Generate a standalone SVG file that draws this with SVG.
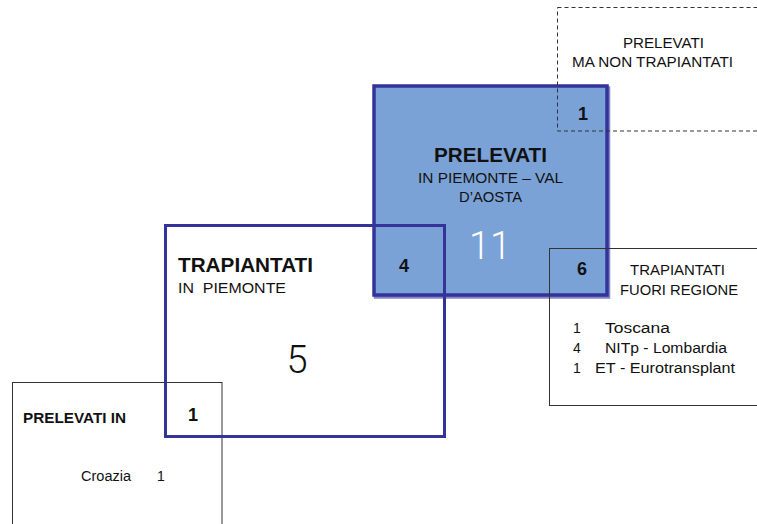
<svg xmlns="http://www.w3.org/2000/svg" width="757" height="524" viewBox="0 0 757 524">
<style>
text{font-family:"Liberation Sans",Arial,sans-serif;fill:#111}
.b{font-weight:bold}
.s{font-size:14px}
.big{font-family:Roboto,"Liberation Sans",sans-serif;font-weight:300;font-size:38px}
.n{font-weight:bold;font-size:18px;text-anchor:middle}
.thin{stroke:#333;stroke-width:1;fill:none}
.navy{stroke:#333399;fill:none}
</style>
<rect width="757" height="524" fill="#fff"/>
<g id="prelevati-piemonte">
<rect x="375.5" y="88" width="233" height="209" fill="none" stroke="#8585c8" stroke-width="3.5"/>
<rect x="374" y="86" width="233" height="209" fill="#7BA2D6" stroke="#333399" stroke-width="3.5"/>
<text x="434" y="162" class="b" font-size="20" textLength="113" lengthAdjust="spacingAndGlyphs">PRELEVATI</text>
<text x="418" y="183" class="s" textLength="145" lengthAdjust="spacingAndGlyphs">IN PIEMONTE – VAL</text>
<text x="459" y="202" class="s" textLength="63" lengthAdjust="spacingAndGlyphs">D’AOSTA</text>
<text x="490" y="259" text-anchor="middle" class="big" style="fill:#fff">11</text>
</g>
<g id="prelevati-non-trapiantati">
<rect x="557.5" y="7.5" width="220" height="123.5" fill="none" stroke="#333" stroke-width="1" stroke-dasharray="4,3"/>
<text x="623" y="48" class="s" textLength="81" lengthAdjust="spacingAndGlyphs">PRELEVATI</text>
<text x="572" y="67" class="s" textLength="161" lengthAdjust="spacingAndGlyphs">MA NON TRAPIANTATI</text>
<text x="583" y="120" class="n">1</text>
</g>
<g id="trapiantati-fuori-regione">
<rect x="549.5" y="248.5" width="220" height="157" class="thin"/>
<text x="582" y="275" class="n">6</text>
<text x="630" y="275" class="s" textLength="95" lengthAdjust="spacingAndGlyphs">TRAPIANTATI</text>
<text x="620" y="295" class="s" textLength="118" lengthAdjust="spacingAndGlyphs">FUORI REGIONE</text>
<text x="573" y="333" class="s">1</text>
<text x="605" y="333" class="s" textLength="65" lengthAdjust="spacingAndGlyphs">Toscana</text>
<text x="573" y="353" class="s">4</text>
<text x="605" y="353" class="s" textLength="122" lengthAdjust="spacingAndGlyphs">NITp - Lombardia</text>
<text x="573" y="373" class="s">1</text>
<text x="595" y="373" class="s" textLength="140" lengthAdjust="spacingAndGlyphs">ET - Eurotransplant</text>
</g>
<g id="prelevati-in-croazia">
<rect x="12.5" y="382.5" width="209.5" height="150" class="thin"/>
<text x="23" y="423" class="b" font-size="15" textLength="103" lengthAdjust="spacingAndGlyphs">PRELEVATI IN</text>
<text x="193" y="421" class="n">1</text>
<text x="81" y="481" class="s" textLength="50" lengthAdjust="spacingAndGlyphs">Croazia</text>
<text x="157" y="481" class="s">1</text>
</g>
<g id="trapiantati-piemonte">
<rect x="165.5" y="225.5" width="279" height="211" class="navy" stroke-width="3"/>
<text x="178" y="272" class="b" font-size="20" textLength="135" lengthAdjust="spacingAndGlyphs">TRAPIANTATI</text>
<text x="178" y="293" font-size="15" xml:space="preserve" textLength="108" lengthAdjust="spacingAndGlyphs">IN  PIEMONTE</text>
<text x="297" y="373" text-anchor="middle" class="big">5</text>
<text x="404" y="272" class="n">4</text>
</g>
<g id="connectors"></g>
</svg>
